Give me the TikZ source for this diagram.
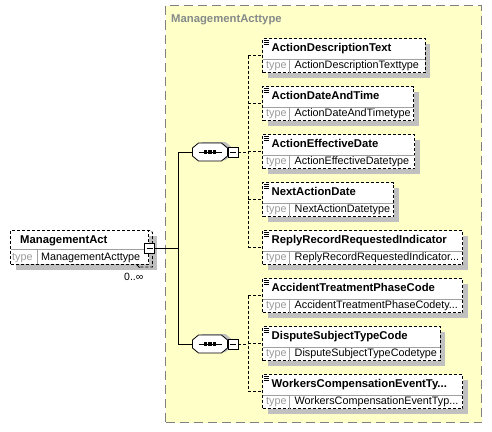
\documentclass[tikz,border=0pt]{standalone}
\usepackage{fontspec}
\setmainfont{Liberation Sans}
\definecolor{ylw}{HTML}{FFFFC8}
\definecolor{bord}{HTML}{808080}
\definecolor{shad}{HTML}{C0C0C0}
\definecolor{typg}{HTML}{9A9A9A}
\definecolor{divg}{HTML}{A0A0A0}
\definecolor{ttlg}{HTML}{858A8A}
\tikzset{
  elbox/.style={draw=black, fill=white, dash pattern=on 3pt off 2pt, line width=0.8pt,
    rectangle, inner sep=0pt, outer sep=0pt, anchor=north west},
  hdr/.style={font=\fontsize{11.3}{13}\selectfont\bfseries, anchor=base west, inner sep=0pt},
  tlab/.style={font=\fontsize{10.8}{13}\selectfont, text=typg, anchor=base west, inner sep=0pt},
  tval/.style={font=\fontsize{10.8}{13}\selectfont, anchor=base west, inner sep=0pt},
  conn/.style={line width=0.8pt, dash pattern=on 3pt off 2pt},
  solidc/.style={line width=0.8pt},
  minusbox/.style={draw, fill=white, minimum size=10pt, inner sep=0pt, outer sep=0pt, line width=0.8pt},
  divline/.style={draw=divg, line width=0.8pt},
}
\newcommand\elembox[6]{% id, x, top, w, header, type
  \fill[shad] (#2+5,#3+5) rectangle (#2+#4+5,#3+39);
  \node[elbox, minimum width=#4pt, minimum height=34pt] (#1) at (#2,#3) {};
  \draw[divline] ([yshift=-20.5pt]#1.north west) -- ([yshift=-20.5pt]#1.north east);
  \draw[divline] ([xshift=27pt,yshift=-20.5pt]#1.north west) -- ([xshift=27pt]#1.south west);
  \node[hdr] (#1-h) at ([xshift=9pt,yshift=-12.5pt]#1.north west) {#5};
  \node[tlab] (#1-t) at ([xshift=3.5pt,yshift=-30pt]#1.north west) {type};
  \node[tval] (#1-v) at ([xshift=32pt,yshift=-30pt]#1.north west) {#6};
  \draw[line width=0.7pt] ([xshift=1pt,yshift=-1.5pt]#1.north west) -- ++(5,0)
    ([xshift=1pt,yshift=-3.5pt]#1.north west) -- ++(5,0)
    ([xshift=1pt,yshift=-5.5pt]#1.north west) -- ++(5,0);
}
\newcommand\compo[4]{% name, minus name, x, y
  \node[minimum width=35pt, minimum height=18pt, inner sep=0pt, outer sep=0pt] (#1) at (#3,#4) {};
  \begin{scope}[shift={(#3,#4)}]
    \fill[shad] (-13.5,-5) -- (-7.5,-10) -- (15.5,-10) -- (21.5,-5) -- (21.5,3) -- (15.5,8) -- (-7.5,8) -- (-13.5,3) -- cycle;
    \draw[line width=0.8pt, fill=white] (-17.5,-4) -- (-11.5,-9) -- (11.5,-9) -- (17.5,-4) -- (17.5,4) -- (11.5,9) -- (-11.5,9) -- (-17.5,4) -- cycle;
    \draw[line width=0.8pt] (-11.5,0) -- (11.5,0);
    \fill (-6.2,-1.6) rectangle (-3,1.6);
    \fill (-1.6,-1.6) rectangle (1.6,1.6);
    \fill (3,-1.6) rectangle (6.2,1.6);
  \end{scope}
  \node[minusbox] (#2) at (#3+23,#4) {};
  \draw[line width=0.7pt] ([xshift=-3pt]#2.center) -- ([xshift=3pt]#2.center);
}
\begin{document}
\begin{tikzpicture}[x=1pt,y=-1pt]
\useasboundingbox (0,0) rectangle (492,431);
% complex type background
\node[draw=bord, fill=ylw, line width=1pt, dash pattern=on 9pt off 5pt, rectangle,
  minimum width=316pt, minimum height=417pt, inner sep=0pt, outer sep=0pt, anchor=north west]
  (ctype) at (165.5,5.5) {};
\node[font=\fontsize{11.3}{13}\selectfont\bfseries, text=ttlg, anchor=base west, inner sep=0pt]
  (ctitle) at (171,22.7) {ManagementActtype};
% rail coordinates
\coordinate (rail) at (248,0);
\coordinate (jx) at (178.7,0);
% element boxes
\elembox{b0}{262.5}{38.5}{162.5}{ActionDescriptionText}{ActionDescriptionTexttype}
\elembox{b1}{262.5}{86.5}{151.2}{ActionDateAndTime}{ActionDateAndTimetype}
\elembox{b2}{262.5}{134.6}{152.2}{ActionEffectiveDate}{ActionEffectiveDatetype}
\elembox{b3}{262.5}{182.6}{131.2}{NextActionDate}{NextActionDatetype}
\elembox{b4}{262.5}{230.7}{200.2}{ReplyRecordRequestedIndicator}{ReplyRecordRequestedIndicator...}
\elembox{b5}{262.5}{278.7}{200.2}{AccidentTreatmentPhaseCode}{AccidentTreatmentPhaseCodety...}
\elembox{b6}{262.5}{326.8}{177.5}{DisputeSubjectTypeCode}{DisputeSubjectTypeCodetype}
\elembox{b7}{262.5}{374.8}{200.2}{WorkersCompensationEventTy...}{WorkersCompensationEventTyp...}
% dashed rails
\draw[conn] (b0.west -| rail) -- (b4.west -| rail);
\draw[conn] (b5.west -| rail) -- (b7.west -| rail);
\foreach \b in {b0,b1,b2,b3,b4,b5,b6,b7} {
  \draw[conn] (\b.west -| rail) -- (\b.west);
}
% compositors
\compo{s1}{m1}{210}{152}
\compo{s2}{m2}{210}{344}
\draw[conn] (m1.east) -- (m1.east -| rail);
\draw[conn] (m2.east) -- (m2.east -| rail);
% ManagementAct element
\fill[shad] (15.5,235.5) rectangle (156.5,270);
\draw[line width=0.8pt, dash pattern=on 3pt off 2pt] (147,230.5) -- (150.5,230.5) -- (152.5,232.5) -- (152.5,267) -- (138,267);
\draw[line width=0.8pt] (136.5,264.5) -- (139.5,267.5);
\node[elbox, minimum width=138pt, minimum height=33.5pt] (ma) at (10.5,230.5) {};
\draw[divline] ([yshift=-19pt]ma.north west) -- ([yshift=-19pt]ma.north east);
\draw[divline] ([xshift=27pt,yshift=-19pt]ma.north west) -- ([xshift=27pt]ma.south west);
\node[hdr] (ma-h) at (20,243.3) {ManagementAct};
\node[tlab] (ma-t) at (12,260) {type};
\node[tval] (ma-v) at (41,260) {ManagementActtype};
\node[font=\fontsize{10.5}{12}\selectfont, anchor=base west, inner sep=0pt] (occ) at (124,280) {0..∞};
\node[minusbox] (mam) at (149.5,248) {};
\draw[line width=0.7pt] ([xshift=-3pt]mam.center) -- ([xshift=3pt]mam.center);
% solid connectors
\draw[solidc] (mam.east) -- (mam.east -| jx);
\draw[solidc] (s1.west) -- (s1.west -| jx) -- (s2.west -| jx) -- (s2.west);
\end{tikzpicture}
\end{document}
